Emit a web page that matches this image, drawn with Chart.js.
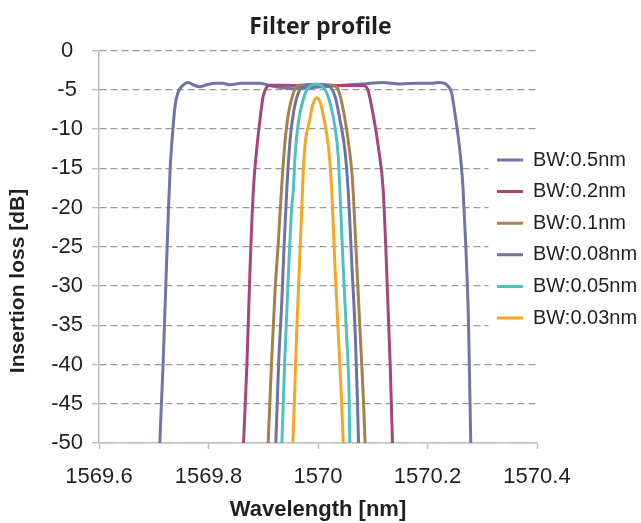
<!DOCTYPE html>
<html>
<head>
<meta charset="utf-8">
<title>Filter profile</title>
<script src="https://cdn.jsdelivr.net/npm/chart.js@4.4.1/dist/chart.umd.min.js"></script>
<style>
  html, body { margin: 0; padding: 0; background: #fff; }
  #wrap { width: 641px; height: 523px; }
</style>
</head>
<body>
<div id="wrap"><canvas id="chart" width="641" height="523"></canvas></div>
<script>
// Filter profile — insertion loss vs wavelength, one curve per filter bandwidth

const seriesNames  = ['BW:0.5nm', 'BW:0.2nm', 'BW:0.1nm', 'BW:0.08nm', 'BW:0.05nm', 'BW:0.03nm'];
const seriesColors = ['#7174a8', '#a7457a', '#a4824a', '#6f72a3', '#4fc0c4', '#f6a623'];

const xTicks = [1569.6, 1569.8, 1570, 1570.2, 1570.4];
const yTicks = [0, -5, -10, -15, -20, -25, -30, -35, -40, -45, -50];

const chartTitle = 'Filter profile';
const xAxisTitle = 'Wavelength [nm]';
const yAxisTitle = 'Insertion loss [dB]';

// ---------- Data ----------

// BW:0.5nm
const wl05 = [1569.711, 1569.717, 1569.722, 1569.727, 1569.730, 1569.735, 1569.739, 1569.744, 1569.752, 1569.763,
              1569.772, 1569.784, 1569.797, 1569.812, 1569.826, 1569.839, 1569.861, 1569.894, 1569.918, 1569.954,
              1569.990, 1570.040, 1570.082, 1570.119, 1570.150, 1570.181, 1570.210, 1570.223, 1570.235, 1570.244,
              1570.250, 1570.256, 1570.262, 1570.265, 1570.270, 1570.275, 1570.279];
const il05 = [-50, -40, -30, -20, -15, -10, -7, -5.4, -4.5, -4.05,
              -4.35, -4.6, -4.35, -4.15, -4.15, -4.35, -4.15, -4.15, -4.55, -4.85,
              -4.7, -4.45, -4.25, -4.05, -4.25, -4.15, -4.15, -4.05, -4.35, -5.4,
              -7.95, -10.9, -14.8, -17.7, -25, -35, -50];

// BW:0.2nm
const wl02 = [1569.864, 1569.870, 1569.876, 1569.882, 1569.888, 1569.894, 1569.900, 1569.912, 1569.967,
              1570.022, 1570.082, 1570.091, 1570.100, 1570.110, 1570.119, 1570.124, 1570.132, 1570.136];
const il02 = [-50, -40.3, -27.5, -17.7, -12.6, -8.8, -5.8, -4.4, -4.45,
              -4.45, -4.45, -5, -7.9, -12.2, -17.7, -25.4, -40.3, -50];

// BW:0.1nm
const wl01 = [1569.909, 1569.915, 1569.922, 1569.927, 1569.933, 1569.940, 1569.946, 1569.955, 1569.964, 1569.996,
              1570.028, 1570.037, 1570.046, 1570.055, 1570.062, 1570.065, 1570.071, 1570.077, 1570.083, 1570.086];
const il01 = [-50, -40, -30, -25, -18, -11.4, -8, -5.4, -4.4, -4.35,
              -4.4, -5, -7.5, -11.4, -15.6, -19, -27.5, -36, -44.5, -50];

// BW:0.08nm
const wl008 = [1569.923, 1569.928, 1569.934, 1569.938, 1569.943, 1569.949, 1569.955, 1569.964, 1569.976, 1569.998,
               1570.019, 1570.031, 1570.040, 1570.049, 1570.055, 1570.062, 1570.068, 1570.072, 1570.074];
const il008 = [-50, -40, -31.8, -25, -17.7, -11.4, -8, -5.4, -4.4, -4.3,
               -4.5, -5.8, -8.8, -12.6, -17.7, -27.5, -36, -44.5, -50];

// BW:0.05nm
const wl005 = [1569.934, 1569.939, 1569.945, 1569.952, 1569.955, 1569.958, 1569.964, 1569.973, 1569.982, 1569.998,
               1570.013, 1570.022, 1570.031, 1570.037, 1570.040, 1570.046, 1570.052, 1570.057, 1570.058];
const il005 = [-50, -40, -30, -20, -17.7, -13.5, -9.2, -6.25, -4.76, -4.3,
               -5, -6.7, -9.7, -13.5, -17.7, -27.5, -36, -44.5, -50];

// BW:0.03nm
const wl003 = [1569.954, 1569.957, 1569.961, 1569.966, 1569.971, 1569.973, 1569.976, 1569.985, 1569.990,
               1569.998, 1570.005, 1570.010, 1570.019, 1570.025, 1570.031, 1570.037, 1570.043, 1570.046];
const il003 = [-50, -44.5, -36, -27.5, -19, -15.6, -12.2, -8.8, -7,
               -6, -6.8, -8.4, -12.2, -17.7, -27.5, -36, -44.5, -50];

const wavelengths = [wl05, wl02, wl01, wl008, wl005, wl003];
const losses      = [il05, il02, il01, il008, il005, il003];

// ---------- Style ----------

const TEXT = '#231f20';
const FONT = '"Liberation Sans", Arial, sans-serif';
Chart.defaults.font.family = FONT;
Chart.defaults.color = TEXT;

// legend sits over the right end of the plot, on a white patch (like Excel)
const legendBox = { left: 485.4, top: 138.4, right: 641, bottom: 340 };

const legendPlacer = {
  id: 'legendPlacer',
  afterLayout(chart) {
    const lg = chart.legend;
    lg.left = legendBox.left;
    lg.top = legendBox.top;
    lg.right = legendBox.right;
    lg.bottom = legendBox.bottom;
    lg.width = lg.right - lg.left;
    lg.height = lg.bottom - lg.top;
  },
  afterDatasetsDraw(chart) {
    const ctx = chart.ctx;
    ctx.save();
    ctx.fillStyle = '#ffffff';
    ctx.fillRect(legendBox.left + 3, legendBox.top + 2,
                 legendBox.right - legendBox.left - 3, legendBox.bottom - legendBox.top - 2);
    ctx.restore();
    chart.legend.draw();
  },
};

// y title is centred lower than the plot middle in the original
const yTitle = {
  id: 'yTitle',
  afterDraw(chart) {
    const ctx = chart.ctx;
    ctx.save();
    ctx.translate(18, 281);
    ctx.rotate(-Math.PI / 2);
    ctx.font = 'bold 21px ' + FONT;
    ctx.fillStyle = TEXT;
    ctx.textAlign = 'center';
    ctx.textBaseline = 'middle';
    ctx.fillText(yAxisTitle, 0, 0);
    ctx.restore();
  },
};

// ---------- Chart ----------

new Chart(document.getElementById('chart'), {
  type: 'line',
  data: {
    datasets: seriesNames.map((name, i) => ({
      label: name,
      data: wavelengths[i].map((x, j) => ({ x, y: losses[i][j] })),
      borderColor: seriesColors[i],
      backgroundColor: seriesColors[i],
      borderWidth: 3,
      pointRadius: 0,
      cubicInterpolationMode: 'monotone',
      order: seriesNames.length - i,
    })),
  },
  options: {
    responsive: false,
    animation: false,
    layout: { padding: 0 },
    plugins: {
      title: {
        display: true,
        text: chartTitle,
        color: TEXT,
        font: { family: '"Open Sans", sans-serif', size: 23, weight: 'bold' },
        padding: { top: 14, bottom: 9 },
      },
      legend: {
        position: 'chartArea',
        align: 'start',
        labels: {
          color: TEXT,
          font: { size: 20 },
          boxWidth: 26,
          boxHeight: 3,
          padding: 11.6,
          sort: (a, b) => a.datasetIndex - b.datasetIndex,
          generateLabels: (chart) =>
            Chart.defaults.plugins.legend.labels.generateLabels(chart).map(l => ({ ...l, lineWidth: 0 })),
        },
      },
      tooltip: { enabled: false },
    },
    scales: {
      x: {
        type: 'linear',
        min: xTicks[0],
        max: xTicks[xTicks.length - 1],
        afterBuildTicks: s => { s.ticks = xTicks.map(v => ({ value: v })); },
        afterFit: s => { s.height = 80; },
        ticks: {
          color: TEXT,
          font: { size: 22 },
          padding: 14.3,
          maxRotation: 0,
          autoSkip: false,
          callback: v => String(v),
        },
        grid: { drawOnChartArea: false, drawTicks: true, tickLength: 6, tickColor: '#bfbfbf', tickWidth: 1.5 },
        border: { display: true, color: '#bfbfbf', width: 1.5 },
        title: {
          display: true,
          text: xAxisTitle,
          color: TEXT,
          font: { size: 22, weight: 'bold' },
          padding: { top: 0, bottom: 0 },
        },
      },
      y: {
        min: yTicks[yTicks.length - 1],
        max: yTicks[0],
        afterBuildTicks: s => { s.ticks = yTicks.map(v => ({ value: v })); },
        afterFit: s => { s.width = 99; },
        ticks: {
          color: TEXT,
          font: { size: 22 },
          padding: 9,
          crossAlign: 'center',
          callback: v => String(v),
        },
        grid: {
          color: '#9a9a9a',
          lineWidth: 1.3,
          tickLength: 7,
          tickColor: '#bfbfbf',
          tickWidth: 1.5,
          tickBorderDash: [],
        },
        border: { display: true, color: '#bfbfbf', width: 1.5, dash: [7, 4] },
      },
      // empty right-hand strip under the legend, keeps the plot ending at 1570.4
      side: {
        position: 'right',
        display: true,
        afterFit: s => { s.width = 104; },
        ticks: { display: false },
        grid: { display: false },
        border: { display: false },
      },
    },
  },
  plugins: [legendPlacer, yTitle],
});
</script>
</body>
</html>
